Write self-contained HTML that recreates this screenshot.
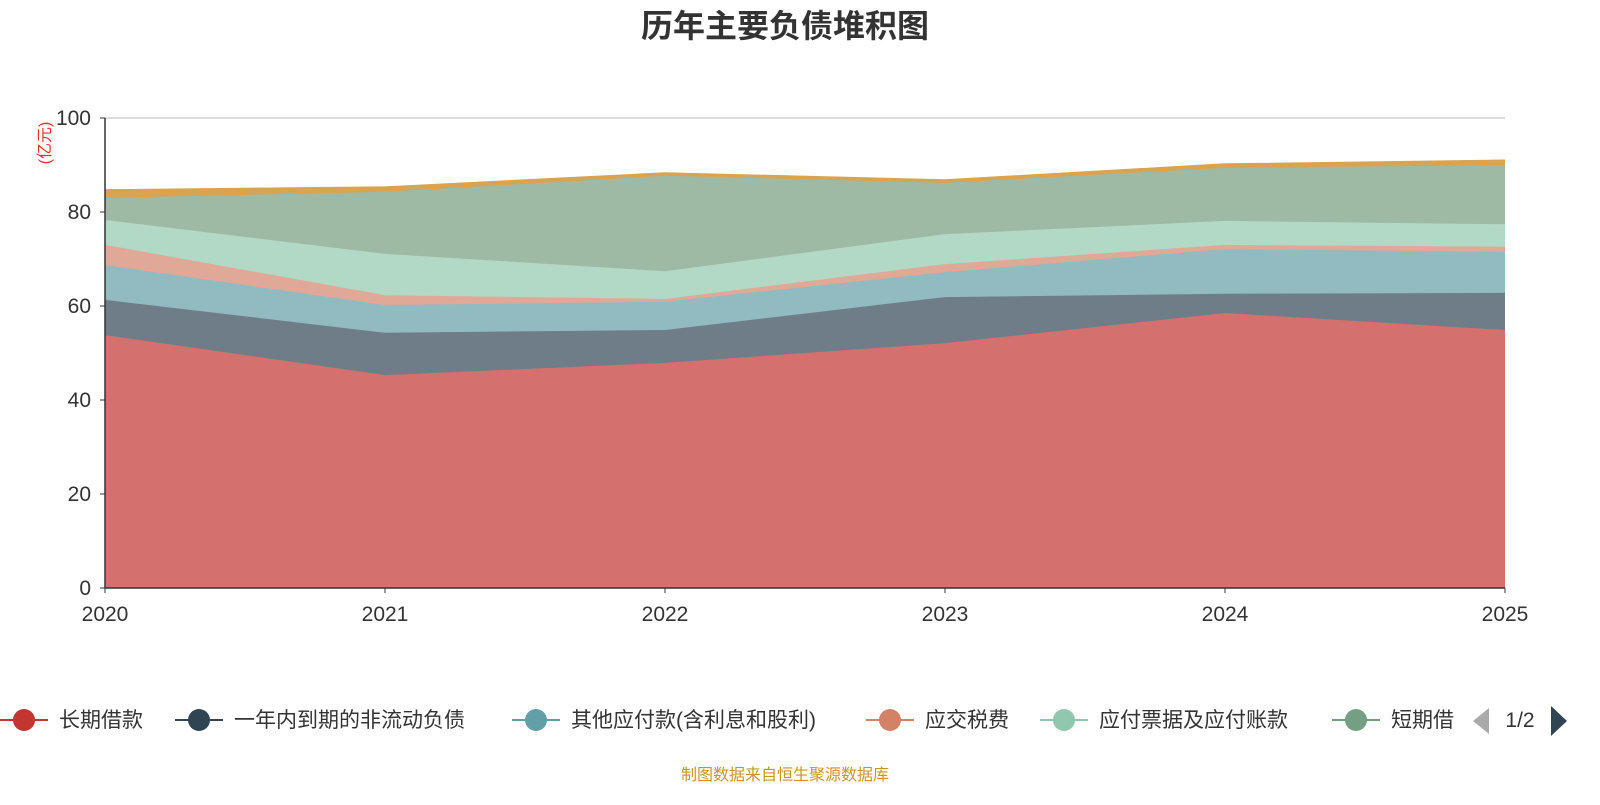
<!DOCTYPE html>
<html><head><meta charset="utf-8"><style>
body{margin:0;background:#fff;width:1600px;height:800px;overflow:hidden;font-family:"Liberation Sans","Noto Sans CJK SC",sans-serif}
</style></head><body>
<svg id="c" width="1600" height="800" xmlns="http://www.w3.org/2000/svg">
<text x="785" y="37" text-anchor="middle" font-size="32" font-weight="bold" fill="#333" font-family="Liberation Sans,Noto Sans CJK SC,sans-serif">历年主要负债堆积图</text>
<text transform="translate(50,143) rotate(-90)" text-anchor="middle" font-size="16" fill="#e03030" font-family="Liberation Sans,Noto Sans CJK SC,sans-serif">(亿元)</text>
<g id="grid"></g><g id="areas"></g><g id="axes"></g>
<g id="legend"></g>
<text x="785" y="780" text-anchor="middle" font-size="16" fill="#c8961e" font-family="Liberation Sans,Noto Sans CJK SC,sans-serif">制图数据来自恒生聚源数据库</text>
</svg>
<script>
const years=["2020","2021","2022","2023","2024","2025"];
const yTicks=[0,20,40,60,80,100];
const s1=[53.8,45.3,47.9,52.1,58.5,54.9];
const s2=[7.5,9.0,7.0,9.8,4.1,7.9];
const s3=[7.4,5.9,6.0,5.3,9.5,8.7];
const s4=[4.3,2.1,0.6,1.7,0.9,1.1];
const s5=[5.3,8.8,5.9,6.4,5.1,4.8];
const s6=[4.7,13.2,20.3,10.9,11.3,12.6];
const s7=[1.7,1.0,0.6,0.6,0.8,1.0];
const names=["长期借款","一年内到期的非流动负债","其他应付款(含利息和股利)","应交税费","应付票据及应付账款","短期借款","其他"];
const series=[s1,s2,s3,s4,s5,s6,s7];
const fills=["#d4706e","#6e7d88","#91bac1","#e0a896","#b2d8c6","#9eb9a4","#d9a34f"];
const lines=["#c23531","#2f4554","#61a0a8","#d48265","#91c7ae","#749f83","#ca8622"];
const NS="http://www.w3.org/2000/svg";
const X0=105,X1=1505,Y0=588,Y1=118;
const xs=i=>X0+(X1-X0)*i/(years.length-1);
const ys=v=>Y0-(Y0-Y1)*v/100;
function mk(t,a,p){const e=document.createElementNS(NS,t);for(const k in a)e.setAttribute(k,a[k]);p.appendChild(e);return e;}
const grid=document.getElementById('grid'),areas=document.getElementById('areas'),axes=document.getElementById('axes'),leg=document.getElementById('legend');
yTicks.forEach(t=>{
 if(t>0){const l=mk('line',{x1:X0,x2:X1,y1:ys(t),y2:ys(t),stroke:t==100?'#bbb':'#ccc','stroke-width':1},grid);
 
 }
 const tx=mk('text',{x:X0-14,y:ys(t)+7,'text-anchor':'end','font-size':21,fill:'#333'},axes);tx.textContent=t;
 
 
 mk('line',{x1:X0-5,x2:X0,y1:ys(t),y2:ys(t),stroke:'#333'},axes);
});
years.forEach((y,i)=>{
 const tx=mk('text',{x:xs(i),y:621,'text-anchor':'middle','font-size':21,fill:'#333'},axes);tx.textContent=y;
 
 
 mk('line',{x1:xs(i),x2:xs(i),y1:Y0,y2:Y0+5,stroke:'#333'},axes);
});
mk('line',{x1:X0,x2:X0,y1:Y1,y2:Y0,stroke:'#333','stroke-width':1.5},axes);
mk('line',{x1:X0,x2:X1,y1:Y0,y2:Y0,stroke:'#333','stroke-width':1.5},axes);
let base=years.map(()=>0);
series.forEach((s,k)=>{
 const top=s.map((v,i)=>base[i]+v);
 let d='M'+top.map((v,i)=>xs(i)+','+ys(v)).join(' L');
 for(let i=years.length-1;i>=0;i--)d+=' L'+xs(i)+','+ys(base[i]);
 d+='Z';
 const p=mk('path',{d:d,fill:fills[k],stroke:'none'},areas);
 
 
 const ln=mk('polyline',{points:top.map((v,i)=>xs(i)+','+ys(v)).join(' '),fill:'none',stroke:fills[k],'stroke-width':1.5},areas);
 
 
 base=top;
});
const lx=[0,175,512,866,1040,1332];
lx.forEach((x,k)=>{
 const g=mk('g',{},leg);
 
 
 mk('line',{x1:x,x2:x+48,y1:720,y2:720,stroke:lines[k],'stroke-width':2},g);
 mk('circle',{cx:x+24,cy:720,r:11,fill:lines[k]},g);
 const t=mk('text',{x:x+59,y:727,'font-size':21,fill:'#333'},g);
 t.textContent=k==5?'短期借':names[k];
});
const pl=mk('path',{d:'M1489,708 L1489,734 L1473,721Z',fill:'#aaa'},leg);


const pt=mk('text',{x:1520,y:727,'font-size':21,fill:'#333','text-anchor':'middle'},leg);pt.textContent='1/2';


const pr=mk('path',{d:'M1551,706 L1551,736 L1567,721Z',fill:'#2f4554'},leg);


</script>
</body></html>
